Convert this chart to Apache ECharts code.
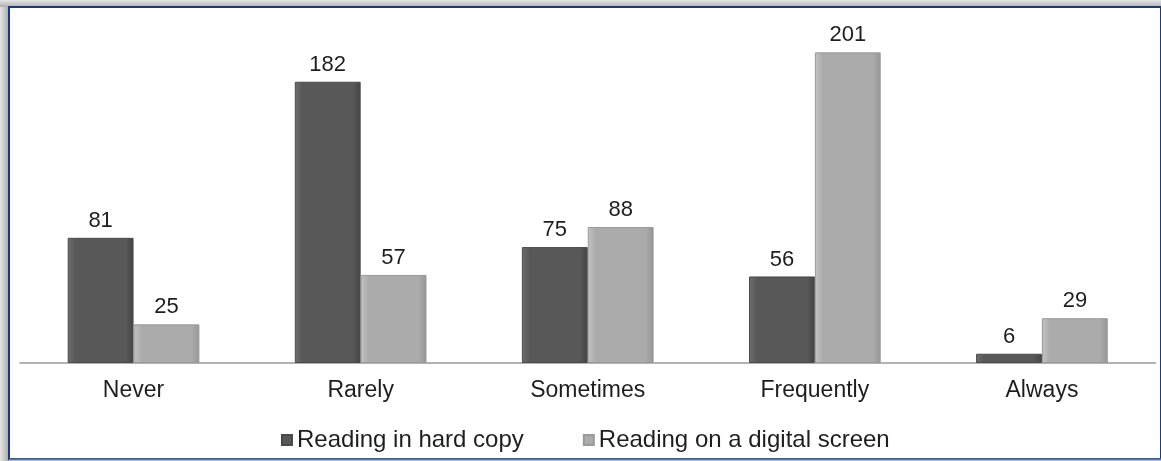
<!DOCTYPE html>
<html><head><meta charset="utf-8">
<script src="https://cdn.jsdelivr.net/npm/echarts@6/dist/echarts.min.js"></script>
<style>html,body{margin:0;padding:0;background:#fff}#c{width:1161px;height:461px}</style>
</head><body><div id="c"></div>
<script>
const categories = ['Never', 'Rarely', 'Sometimes', 'Frequently', 'Always'];
const hardCopy = [81, 182, 75, 56, 6];
const digitalScreen = [25, 57, 88, 201, 29];
const seriesNames = ['Reading in hard copy', 'Reading on a digital screen'];

const chart = echarts.init(document.getElementById('c'), null, {renderer: 'canvas'});
function grad(c1, c2, c3) {
  return new echarts.graphic.LinearGradient(0, 0, 1, 0, [
    {offset: 0, color: c1}, {offset: 0.12, color: c2}, {offset: 0.88, color: c2}, {offset: 1, color: c3}
  ]);
}
const font = 'Liberation Sans, Arial, sans-serif';
chart.setOption({
  animation: false,
  backgroundColor: '#fff',
  graphic: [
    {type: 'rect', shape: {x: 0, y: 0, width: 9, height: 461}, style: {fill: new echarts.graphic.LinearGradient(0,0,1,0,[{offset:0,color:'#e6e6e6'},{offset:1,color:'#a8a8a8'}])}, z: 0},
    {type: 'rect', shape: {x: 0, y: 0, width: 1161, height: 7}, style: {fill: new echarts.graphic.LinearGradient(0,0,0,1,[{offset:0,color:'#e6e6e6'},{offset:1,color:'#b0b0b0'}])}, z: 0},
    {type: 'rect', shape: {x: 9, y: 7, width: 1152, height: 452}, style: {fill: '#fff', stroke: '#1a3a7a', lineWidth: 2}, z: 0},
    {type: 'line', shape: {x1: 9, y1: 459.5, x2: 1161, y2: 459.5}, style: {stroke: '#5a7aaa', lineWidth: 2}, z: 1}
  ],
  grid: {left: 20, right: 5.5, top: 23, bottom: 98},
  legend: {
    bottom: 4, left: 276, icon: 'rect', itemWidth: 10, itemHeight: 10, itemGap: 59,
    textStyle: {fontFamily: font, fontSize: 24, color: '#1e1e1e'},
    data: seriesNames
  },
  xAxis: {
    type: 'category', data: categories,
    axisLine: {lineStyle: {color: '#999', width: 1.5}},
    axisTick: {show: false},
    axisLabel: {fontFamily: font, fontSize: 23, color: '#1e1e1e', margin: 16}
  },
  yAxis: {type: 'value', min: 0, max: 220, show: false, splitLine: {show: false}},
  series: [
    {
      name: seriesNames[0], type: 'bar', data: hardCopy, barGap: '0%', barCategoryGap: '42%',
      itemStyle: {color: grad('#6e6e6e', '#585858', '#444'), borderColor: '#4a4a4a', borderWidth: 1},
      label: {show: true, position: 'top', distance: 6, fontFamily: font, fontSize: 22, color: '#1e1e1e'}
    },
    {
      name: seriesNames[1], type: 'bar', data: digitalScreen,
      itemStyle: {color: grad('#c4c4c4', '#ababab', '#959595'), borderColor: '#9a9a9a', borderWidth: 1},
      label: {show: true, position: 'top', distance: 6, fontFamily: font, fontSize: 22, color: '#1e1e1e'}
    }
  ],
  color: ['#585858', '#ababab']
});
</script></body></html>
